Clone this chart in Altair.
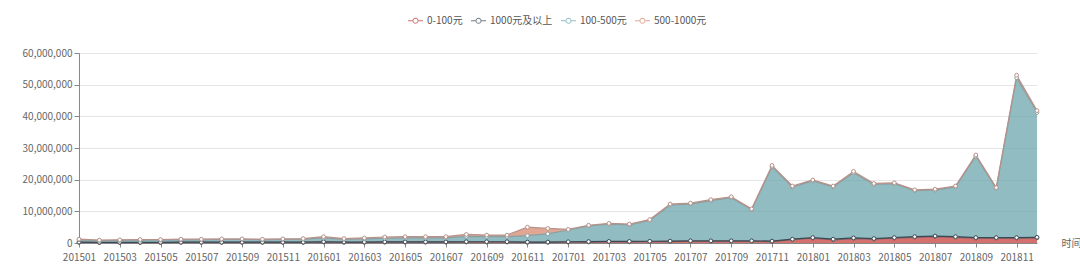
import altair as alt
import pandas as pd

months = [f"{y}{m:02d}" for y in (2015, 2016, 2017, 2018) for m in range(1, 13)]
series = ["0-100元", "1000元及以上", "100-500元", "500-1000元"]
fill_colors = ["#c23531", "#2f4554", "#61a0a8", "#d48265"]
line_colors = ["#8a6262", "#3a4955", "#8c9ea2", "#b79289"]

# values in millions
v_0_100 = [0.2, 0.15, 0.15, 0.15, 0.15, 0.2, 0.2, 0.2, 0.2, 0.2, 0.2, 0.2,
           0.3, 0.2, 0.2, 0.25, 0.25, 0.25, 0.25, 0.3, 0.3, 0.3, 0.2, 0.2,
           0.25, 0.3, 0.35, 0.35, 0.4, 0.45, 0.55, 0.55, 0.55, 0.55, 0.45, 1.05,
           1.5, 1.0, 1.4, 1.2, 1.5, 1.8, 2.0, 1.8, 1.5, 1.5, 1.5, 1.6]
v_1000_up = [0.05] * 12 + [0.1] * 12 + [0.15] * 12 + [0.2] * 12
v_100_500 = [0.75, 0.55, 0.6, 0.7, 0.7, 0.75, 0.75, 0.85, 0.85, 0.75, 0.85, 0.95,
             1.2, 0.8, 1.0, 1.15, 1.25, 1.25, 1.25, 1.7, 1.6, 1.6, 2.0, 2.6,
             3.7, 4.95, 5.45, 5.25, 6.55, 11.4, 11.6, 12.7, 13.6, 9.8, 23.5, 16.5,
             17.9, 16.5, 20.6, 17.1, 17.0, 14.5, 14.5, 15.7, 25.7, 15.5, 50.5, 39.4]
v_500_1000 = [0.2, 0.15, 0.2, 0.2, 0.2, 0.2, 0.2, 0.2, 0.2, 0.2, 0.2, 0.2,
              0.4, 0.3, 0.3, 0.4, 0.4, 0.4, 0.4, 0.6, 0.5, 0.5, 2.7, 1.7,
              0.2, 0.2, 0.25, 0.25, 0.3, 0.3, 0.3, 0.3, 0.3, 0.3, 0.4, 0.3,
              0.3, 0.3, 0.4, 0.3, 0.3, 0.3, 0.3, 0.3, 0.4, 0.3, 0.8, 0.6]
y_ticks = [0, 10000000, 20000000, 30000000, 40000000, 50000000, 60000000]

rows = []
for k, (name, vals) in enumerate(zip(series, [v_0_100, v_1000_up, v_100_500, v_500_1000])):
    for m, v in zip(months, vals):
        rows.append({"month": m, "series": name, "order": k, "value": v * 1e6})
df = pd.DataFrame(rows)

FONT = "Noto Sans CJK SC"
# hollow ring with short lines on both sides (filled shapes)
legend_symbol = (
    "M-0.4,0A0.4,0.4,0,1,1,0.4,0A0.4,0.4,0,1,1,-0.4,0Z"
    "M-0.28,0A0.28,0.28,0,1,0,0.28,0A0.28,0.28,0,1,0,-0.28,0Z"
    "M-1,-0.06L-0.4,-0.06L-0.4,0.06L-1,0.06Z"
    "M0.4,-0.06L1,-0.06L1,0.06L0.4,0.06Z"
)

color_enc = alt.Color(
    "series:N",
    scale=alt.Scale(domain=series, range=fill_colors),
    legend=alt.Legend(
        title=None, orient="none", direction="horizontal", columns=4,
        legendX=329, legendY=-40,
        symbolType=legend_symbol, symbolSize=225, symbolStrokeWidth=0,
        symbolOpacity=0.7,
        labelFont=FONT, labelFontSize=10, labelColor="#555",
        columnPadding=8, labelOffset=4,
    ),
)
stroke_enc = alt.Stroke("series:N", scale=alt.Scale(domain=series, range=line_colors), legend=None)

odd_test = "toNumber(substring(datum.value, 4, 6)) % 2 == 1"
x = alt.X(
    "month:O",
    scale=alt.Scale(type="point", padding=0),
    axis=alt.Axis(
        labelExpr=f"{odd_test} ? datum.value : ''",
        tickOpacity={"condition": {"test": odd_test, "value": 1}, "value": 0},
        labelAngle=0, labelOverlap=False, labelBound=False, labelFlush=False,
        title="时间", titleX=982, titleY=0,
        titleAlign="left", titleBaseline="middle", titleAngle=0,
        titleFontWeight="normal", titleFontSize=10, titleColor="#666", titleFont=FONT,
        tickSize=4, labelPadding=5, grid=False,
    ),
)
y = alt.Y(
    "y1:Q",
    stack=None,
    scale=alt.Scale(domain=[0, 60000000], nice=False),
    axis=alt.Axis(values=y_ticks, format=",d", title=None, tickSize=5,
                  labelPadding=2, grid=True),
)

base = alt.Chart(df).transform_stack(
    stack="value", groupby=["month"], as_=["y0", "y1"],
    sort=[alt.SortField("order", order="ascending")],
)

area = base.mark_area(opacity=0.7).encode(
    x=x, y=y, y2="y0:Q", color=color_enc, order="order:Q"
)
line = base.mark_line(strokeWidth=1.2).encode(
    x=x, y=y, stroke=stroke_enc, detail="series:N",
)
points = base.mark_point(filled=False, fill="white", fillOpacity=1, size=14,
                         strokeWidth=1, opacity=1).encode(
    x=x, y=y, stroke=stroke_enc,
)

chart = (
    alt.layer(area, line, points)
    .properties(
        width=958, height=190,
        autosize=alt.AutoSizeParams(type="none"),
        padding={"left": 79, "top": 53, "right": 43, "bottom": 22},
        background="white",
    )
    .configure_view(stroke=None)
    .configure_axis(
        labelFont=FONT, labelFontSize=10, labelColor="#666",
        domainColor="#888", tickColor="#888", gridColor="#e6e6e6",
    )
)

chart.save("out.html", embed_options={"renderer": "svg", "actions": False})
